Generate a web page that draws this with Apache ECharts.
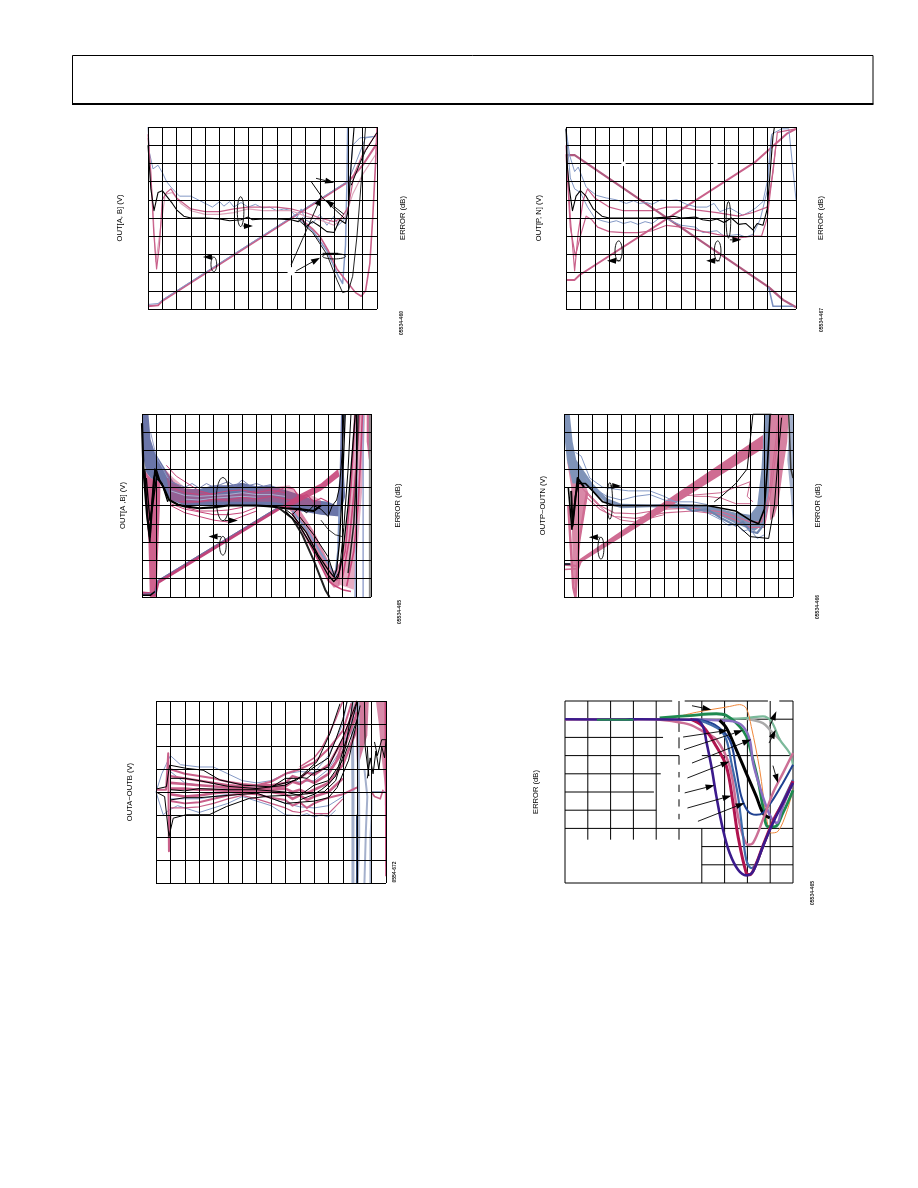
<!DOCTYPE html>
<html><head><meta charset="utf-8">
<style>html,body{margin:0;padding:0;background:#fff}#c{width:918px;height:1188px}</style>
<script src="https://cdn.jsdelivr.net/npm/echarts@6/dist/echarts.min.js"></script>
</head><body><div id="c"></div>
<script>
// ---------- tick counts / labels ----------
const leftLabels = ["OUT[A, B] (V)","OUT[P, N] (V)","OUT[A ,B] (V)","OUTP\u2212OUTN (V)","OUTA\u2212OUTB (V)","ERROR (dB)"];
const rightLabels = ["ERROR (dB)","ERROR (dB)","ERROR (dB)","ERROR (dB)","",""];
const figureIds = ["05534-460","05534-467","05534-465","05534-466","0554-672","05534-465"];

// ---------- chart 1 ----------
const c1Ramp = [[0,.15],[.7,.2],[1,.45],[14,7],[15,7.9],[16,9.1]];
const c1RampB = [[0,.25],[.7,.3],[1,.5],[14,7.05],[14.6,8.2],[15.2,9.4],[16,9.5]];
const c1RampK = [[14.2,6.8],[14.8,8],[15.2,8.7],[16,9.7]];
const c1Blue = [[0,10],[.1,8.6],[.35,7.7],[.7,7.9],[1,7.5],[1.3,7],[1.6,6.7],[2.2,6.2],[3,6.2],[3.5,6],[4,5.8],[4.5,5.6],[5,5.9],[5.3,5.65],[5.7,5.9],[6,5.6],[6.5,5.85],[7,5.6],[7.5,5.75],[8,5.55],[8.5,5.6],[9,5.4],[9.5,5.5],[10,5.4],[10.4,5.0],[10.7,5.5],[11,4.9],[11.5,4.7],[12,5.2],[12.5,4.6],[13,5.1],[13.3,4.6],[13.7,4.9],[14,5.5],[14.1,7],[14.3,9],[14.8,9.4],[16,9.5]];
const c1BlueDrop = [[10.5,5],[11.5,4.3],[12.5,3.2],[13.3,1.8],[13.6,1.4],[13.8,3.5],[13.9,7],[13.95,10]];
const c1Pink = [[0,9.6],[.2,7.5],[.4,4.2],[.6,2.2],[.8,3.5],[1,6],[1.3,6.4],[1.6,6.6],[2,6.1],[3,5.5],[4,5.35],[5,5.35],[6,5.5],[7,5.6],[8,5.6],[9,5.6],[10,5.5],[10.5,5.4],[11,5.3],[12,5],[13,4.8],[13.5,5],[14,5.6],[14.4,7.4],[15,8.5],[16,9.7]];
const c1PinkLt = [[0,9.4],[.3,6],[.55,2.6],[.8,4],[1.2,6.3],[1.7,6.4],[2.3,5.8],[3,5.4],[4,5.2],[5,5.2],[6,5.3],[7,5.5],[8,5.4],[9,5.4],[10,5.4],[11,5.1],[12,4.9],[13,4.6],[13.8,5.1],[14.3,6.3],[15,7.4],[16,8.6]];
const c1PinkDrop = [[10.6,5],[11.5,4.4],[12,4],[12.6,3.2],[13.2,2.2],[14,1.4],[14.5,.9],[14.9,.7],[15.2,1],[15.5,2.5],[15.7,5],[15.9,8],[16,10]];
const c1Black = [[0,9],[.2,6.6],[.42,5.4],[.7,6.4],[1,6.5],[1.3,6.2],[1.7,5.8],[2,5.45],[2.5,5.1],[3,5],[4,5],[5,4.95],[5.7,4.85],[6.5,4.9],[7,5.05],[7.3,4.9],[8,4.95],[9,4.95],[10,4.9],[10.5,4.8],[10.8,5],[11,4.5],[11.5,4.8],[12,4.55],[12.5,4.25],[13,4.2],[13.4,4.9],[13.8,4.7],[14,5.5],[14.2,8],[14.4,10]];
const c1BlackDrop = [[10.5,4.9],[11.5,4.2],[12.5,3],[13.2,1.6],[13.6,.9],[14,1],[14.3,1.8],[14.6,4],[14.9,7],[15.2,10]];
const c1Ellipses = [[6.47,5.35,.23,.82],[4.6,2.45,.2,.4],[13,2.9,.8,.15]];
const c1Arrows = [[6.63,4.56,7.33,4.56],[4.53,2.86,3.84,2.86],[11.74,7.18,13,6.94],[10,2.42,12.1,6.17],[10.35,2.09,12.02,2.82],[13.7,5.2,12.4,6]];
const c1Leaders = [[11.4,7,12.2,6.1],[12.2,6.1,13.7,5],[12.2,3.06,13.3,3.06]];
const c1Masks = [[9.75,1.85,10.25,2.3]];

// ---------- chart 2 ----------
const c2RampUp = [[0,1.6],[.6,1.6],[.95,1.87],[13.2,8.1],[15.4,9.65],[16,9.9]];
const c2RampDown = [[.1,8.45],[.6,8.45],[14.1,1.2],[15.1,.5],[16,.1]];
const c2BlueStep = [[14.1,1.2],[14.4,.15],[15.8,.15]];
const c2BlueTop = [[0,9.9],[.25,8.45],[.6,7.55],[.85,7.8],[1.4,6.7],[2.1,6.25],[2.8,6.1],[3.5,6],[4.2,5.8],[4.7,5.95],[5.1,5.8],[5.6,5.85],[6,5.75],[6.6,6],[7.2,5.95],[7.7,6],[8.4,5.75],[9.1,5.6],[9.8,5.6],[10.3,5.8],[10.7,5.35],[11.4,5.55],[12.3,5.15],[12.8,5.35],[13.2,5.55],[13.7,5.9],[14,7],[14.3,9.6],[15,9.9],[15.5,9.9],[16,6]];
const c2BlueLow = [[0,9.9],[.3,7.2],[.6,6.6],[1,6.4],[1.5,5.6],[2,5],[2.5,4.85],[3,4.75],[3.5,4.85],[4,4.7],[4.5,4.8],[5,4.65],[5.5,4.8],[6,4.7],[6.5,5],[7,4.95],[8,4.6],[9,4.5],[9.5,4.2],[10,4.25],[10.5,4.3],[11,4],[12,4.1],[12.5,3.95],[13,4.1],[13.5,4.9],[14,6.5],[14.3,9.5]];
const c2PinkTop = [[0,9],[.3,5],[.6,2.1],[.85,4.2],[1.2,6],[1.5,6.6],[2,6.1],[3,5.6],[4,5.4],[6,5.4],[7,5.6],[8,5.6],[9,5.45],[10.5,5.3],[12,5.1],[13,5.3],[14,5.6],[14.4,7.5],[14.7,9.7],[16,9.9]];
const c2PinkLow = [[0,8.5],[.3,4.5],[.65,2.9],[1,4],[1.4,5.1],[1.8,4.9],[2.2,4.5],[3,4.25],[4,4.2],[5,4.2],[6,4.3],[7,4.6],[8,4.5],[9,4.35],[10.5,4.1],[12,3.9],[13,4],[13.6,4],[14,5],[14.3,7],[14.6,9]];
const c2Black = [[0,9.9],[.1,7.8],[.25,6.5],[.45,5.4],[.7,6.2],[1,6.5],[1.4,6.2],[1.9,5.5],[2.5,5.1],[3,5],[6,5],[7,5.05],[7.5,5.1],[8,5],[9,5.05],[9.5,4.9],[10,4.85],[10.5,4.95],[11,4.75],[11.5,5],[12,4.65],[12.5,4.7],[13,4.35],[13.3,4.7],[13.7,4.6],[14,5.5],[14.2,7.5],[14.4,9.5],[14.5,10]];
const c2Ellipses = [[3.66,3.19,.25,.55],[10.55,3.19,.23,.55],[11.3,4.9,.16,1]];
const c2Arrows = [[3.8,2.65,2.85,2.65],[10.7,2.65,9.75,2.65],[11.4,3.8,12.2,3.8]];
const c2Masks = [[3.85,7.85,4.15,8.1],[10.25,7.85,10.55,8.1]];

// ---------- chart 3 ----------
const c3BlueBand = [[0,10],[.45,10],[.6,8.6],[.9,7.9],[1.3,7.4],[1.7,6.9],[2.2,6.3],[3,5.9],[4,5.9],[5,6.1],[6,6.1],[7,6.25],[8,6.05],[9,6.1],[10,5.85],[11,5.6],[12,5.3],[13,5.2],[13.6,5],[13.8,6.5],[13.9,10],[14.2,10],[14,8],[14.2,5.5],[13.8,4.4],[12.5,4.5],[11,4.7],[9,4.9],[7,5],[5,4.95],[3,5],[2,5.3],[1.7,5.7],[1.2,6.3],[.6,6.5],[.3,6.8],[0,8]];
const c3PinkBody = [[1.6,7],[2.2,6.5],[3,6],[5,5.6],[7,5.7],[9,6],[10.3,6.1],[11,5.6],[12,5.5],[12.5,5.3],[12.5,4.9],[11,5],[9,5.2],[7,5.2],[5,5.2],[3,5.1],[2,5.3]];
const c3PinkSpike = [[.1,7],[.6,6.5],[1.3,6.4],[1.25,5],[1.1,2],[1,0],[.55,0],[.45,3],[.2,6]];
const c3PinkV = [[10,5],[11,4.2],[12,2.6],[13,.9],[13.4,.5],[13.8,.6],[13.9,2],[13.4,1.4],[13,2],[12,3.6],[11,4.8]];
const c3PinkRight = [[13.7,.7],[14.8,.4],[15.1,3],[15.4,6],[15.6,10],[14.8,10],[14.6,7],[14.3,4]];
const c3PinkRightB = [[15.7,10],[16,10],[16,8],[15.85,7.5],[15.7,8.5]];
const c3PinkRampTop = [[9.6,4.9],[11,5.6],[12.5,6.2],[13.7,7],[13.8,6.6],[12.5,5.8],[11,5.2],[10,4.8]];
const c3Ramp = [[0,.2],[.9,.15],[1.1,.8],[9.7,4.9]];
const c3RampB = [[0,.15],[.9,.2],[1.1,.9],[9.7,5]];
const c3RampK = [[0,.1],[.6,.1],[.9,.3]];
const c3PinkA = [[2,5],[3,4.6],[4,4.4],[5,4.2],[6,4.1],[7,4.4],[8,4.7]];
const c3PinkB = [[2,5.1],[3,4.8],[5,4.5],[6,4.5],[7,4.6],[8,4.9]];
const c3PinkC = [[3,4.9],[4,4.7],[5,4.7],[6,4.75],[7,4.9]];
const c3PinkD = [[1.7,7.2],[2.4,6.6],[3,6.3],[4,5.8],[5,5.6]];
const c3PinkE = [[9.2,5.7],[10,6],[10.6,5.9],[11,5.4],[11.5,5.6],[12,5.2],[12.5,5.4],[13,5.2]];
const c3PinkF = [[13.6,.9],[14.2,2.5],[14.6,6],[14.9,10]];
const c3PinkG = [[10.5,4.6],[11.5,3.2],[12.5,1.7],[13,.9],[13.5,.6],[14,.4],[14.6,.3]];
const c3PinkH = [[14.3,.6],[14.8,2.5],[15.1,5],[15.3,8],[15.4,10]];
const c3PinkI = [[14,1],[14.5,3.2],[14.8,5.6],[15.05,8],[15.2,10]];
const c3PinkJ = [[2,6],[3,5.7],[4,5.6],[5,5.65],[6,5.8],[7,5.85],[8,5.7],[9,5.85],[10,5.7]];
const c3PinkK = [[2.6,5.2],[4,5.2],[5,5.35],[6,5.3],[7,5.45],[8,5.35],[9,5.5],[10,5.35],[11,5.25]];
const c3BlueTop = [[1.5,7],[2,6.3],[3,6],[3.5,6.2],[4,5.95],[4.5,6.2],[5,6],[5.5,6.15],[6,6.3],[6.5,6.05],[7,6.4],[7.5,6.1],[8,6.2],[8.5,6.05],[9,6.15]];
const c3LiteA = [[2,5.8],[3,5.55],[4,5.5],[5,5.55],[6,5.6],[7,5.7],[8,5.6],[9,5.6],[10,5.5]];
const c3LiteB = [[.6,9],[.9,8],[1.1,7.5],[1.4,7.1],[1.8,6.5]];
const c3LiteC = [[3,5.35],[4,5.3],[5,5.4],[6,5.45],[7,5.5],[8,5.45]];
const c3KA = [[0,9.5],[.1,7],[.35,4.5],[.55,3.3],[.7,5],[.85,6.5],[1,6.9],[1.2,6.4],[1.5,6],[1.9,5.3],[2.5,5.05],[3,4.95],[4,4.85],[5,4.9],[6,5],[7,5],[8,5],[9,4.95],[10,4.85],[11,4.8],[12,4.7],[12.5,5]];
const c3KB = [[.2,7],[.4,4],[.55,3],[.65,4.5],[.9,7],[1.1,6.5]];
const c3KC = [[.3,6.5],[.55,4.2],[.75,5],[1,6.5],[1.4,6.2],[1.8,5.2]];
const c3KV1 = [[9.5,4.9],[10.5,4.3],[11.2,3.4],[12,2],[12.8,.4],[13.1,0]];
const c3KV2 = [[10,4.7],[11,3.9],[12,2.6],[13,1.2],[13.4,.85],[13.7,1.1],[14,2.2],[14.4,5],[14.7,8],[14.9,10]];
const c3KV3 = [[10.5,4.5],[11.5,3.5],[12.3,2.3],[13,1.5],[13.4,1.1],[13.6,1.5],[13.8,3],[14,6],[14.2,10]];
const c3KV4 = [[11,4.4],[12,3.4],[13,2.2],[13.5,1],[13.8,1.4],[14.1,3.8],[14.4,7],[14.6,10]];
const c3KArc = [[12.5,4.2],[13,3.7],[13.5,3.4],[14,3.3]];
const c3KNoise = [[10,4.8],[10.5,4.5],[11,4.9],[11.5,4.6],[12,5],[12.5,4.8],[13,4.4],[13.3,5],[13.6,5.3],[13.8,6],[14,8],[14.1,10]];
const c3KRight = [[14.4,1.3],[14.8,4],[15,7],[15.1,10]];
const c3BV1 = [[10.5,4.7],[11.5,3.7],[12.5,2.4],[13.2,1.6],[13.5,1.1],[13.7,2.5],[13.8,5]];
const c3BV2 = [[15,10],[15,5],[14.9,0]];
const c3BV3 = [[15.45,10],[15.45,0]];
const c3Gray = [[15.92,0],[15.92,10]];
const c3Ellipses = [[5.65,5.35,.46,1.18],[5.65,2.8,.23,.51]];
const c3Arrows = [[5.77,4.18,6.7,4.18],[5.53,3.3,4.65,3.3]];

// ---------- chart 4 ----------
const c4BlueBand = [[0,10],[.4,10],[.6,8.5],[.85,7.5],[1.3,7],[2,6.2],[3,5.4],[4,5.1],[6,5.05],[8,5.1],[10,5],[12,4.6],[13,4.5],[13.5,5],[13.8,7],[14,10],[14.4,10],[14.4,8],[14.3,5],[14,4],[13.3,3.6],[12,4],[11,4.4],[9,4.8],[6,4.9],[4,4.85],[3,5.1],[2,5.8],[1.2,6.2],[.6,6.2],[.2,7.5],[0,9]];
const c4PinkSpike = [[.2,7.5],[.5,6],[.6,2],[.75,.2],[.85,.2],[1,2.5],[1.4,4.5],[1.7,5.7],[1.2,6.8],[.7,6.5]];
const c4PinkRight = [[14.4,10],[15.7,10],[15.6,8.5],[15.3,7],[15,5.2],[14.7,4.4],[14.4,4.2],[14.35,6]];
const c4BlueRight = [[15.8,10],[16,10],[16,3.9],[15.85,5.5],[15.6,7.5]];
const c4RampPoly = [[1.05,2.05],[13.9,8.85],[13.9,8.1],[1.1,1.85]];
const c4RampFoot = [[0,1.76],[1,1.7],[1.1,2]];
const c4RampFootB = [[0,1.5],[1,1.55],[1.2,1.95]];
const c4PinkLow = [[1.5,5.5],[2.5,4.8],[3.5,4.4],[5,4.3],[7,4.6],[9,4.7],[11,4.5],[12,4.2],[13,3.8],[14,3.8],[14.5,6],[15,9],[15.3,10]];
const c4PinkLowB = [[1.5,5.8],[2.5,5],[3.5,4.6],[5,4.55],[7,4.8],[9,4.85],[11,4.65],[12,4.4],[13,4.1],[13.8,4.1],[14.3,5.5],[14.8,8.5],[15,10]];
const c4PinkUp = [[8,5.5],[9.5,5.6],[11,5.7],[13,6.3],[12.8,5.5],[13.2,5.2]];
const c4PinkSp = [[.3,5],[.65,.5],[.8,0],[1.05,3],[1.6,5.7]];
const c4PinkMid = [[9,5.5],[10,5.5],[11,5.4],[12,5.1],[13,5.1]];
const c4PinkLowC = [[1.2,6],[2,5.3],[3,4.6],[4,4.2],[5,4.1],[6,4.3],[7,4.5]];
const c4BlackA = [[.3,6],[.55,3.7],[.8,5.5],[1,6.2],[1.5,6.2],[2,5.8],[2.7,5.2],[3.5,5],[6,5],[8,5],[10,5],[12,4.7],[13,4.2],[13.6,4],[14,4.8],[14.2,7],[14.4,10]];
const c4BlackB = [[.5,5.8],[.6,3.9],[.75,5],[.95,6.5],[1.4,6]];
const c4BlackC = [[10.5,5.2],[11,5.5],[12,6.2],[12.8,7],[13,8.5],[13.2,10],[14.5,10]];
const c4BlackD = [[12,4],[13,3.3],[14.3,3.2],[14.7,5],[15,8],[15.2,9.8]];
const c4BlackE = [[0,1.8],[.45,1.8]];
const c4BlueOut = [[.8,7.9],[1.2,7.7],[1.8,6.5],[2.7,6],[3.5,5.9],[4.5,5.8],[6,5.8],[7,5.5],[8,5.1]];
const c4BlueNoise = [[8,5.05],[9,4.7],[10,4.8],[11,4.3],[12,3.9],[12.5,4.1],[13,3.6],[13.5,3.5],[14,4]];
const c4BlueMid = [[1.5,6.5],[2,6],[3,5.5],[4,5.3],[5,5.5],[6,5.6],[7,5.3],[8,5.2],[9,5.2],[10,5.05]];
const c4BlueLow = [[10,4.6],[11,4.2],[11.5,3.9],[12,4],[12.5,3.6],[13,3.7],[13.5,3.2],[14,3.4]];
const c4KFade = [[15.7,10],[15.85,7],[16,6.5]];
const c4Ellipses = [[3.2,5.25,.19,1],[2.58,2.67,.21,.6]];
const c4Arrows = [[3.2,6.07,4,6.07],[2.49,3.27,1.74,3.27]];

// ---------- chart 5 ----------
const c5PinkA = [[1,5],[2,4.8],[3,4.7],[4,4.6],[5,4.45],[6,4.35],[7,4.3],[8,4.45],[9,4.8],[10,5],[11,5.3],[12,5.9],[13,6.7],[13.6,7.9]];
const c5PinkB = [[1,4.7],[2,4.6],[3,4.5],[4,4.4],[5,4.3],[6,4.25],[7,4.3],[8,4.3],[9,4.4],[9.5,4.7],[10,4.6],[10.5,4.85],[11,4.75],[12,5.2],[13,6.3],[14,8]];
const c5PinkC = [[1,4.4],[2,4.35],[3,4.3],[4,4.25],[5,4.2],[6,4.15],[7,4.15],[8,4.2],[9,4.25],[9.5,4.45],[10,4.35],[10.5,4.55],[11,4.4],[12,4.8],[13,5.8],[14,7.5]];
const c5PinkD = [[1,4.15],[2,4.15],[3,4.1],[4,4.1],[5,4.1],[6,4.1],[7,4.1],[8,4.1],[9,4.15],[9.5,4],[10,4.1],[10.5,3.95],[11,4.1],[12,4.4],[13,5.2],[14,6.8]];
const c5PinkE = [[1,3.9],[2,3.8],[3,3.85],[4,3.95],[5,4],[6,4.05],[7,4],[8,4],[9,3.9],[9.5,3.7],[10,3.85],[10.5,3.65],[11,3.8],[12,4],[13,4.6]];
const c5PinkF = [[1,3.6],[2,3.5],[3,3.55],[4,3.7],[5,3.85],[6,3.95],[7,3.9],[8,3.75],[9,3.65],[9.5,3.4],[10,3.55],[10.5,3.3],[11,3.5],[12,3.75],[13,3.9],[14,4.2]];
const c5PinkG = [[1,3.3],[2,3.3],[3,3.35],[4,3.5],[5,3.7],[6,3.85],[7,3.7],[8,3.5],[9,3.3],[9.5,3.15],[10,3.1],[10.5,3.2],[11,3.05],[12,3.05],[13,3.7]];
const c5PinkH = [[10,5.1],[11,5.5],[11.5,5.9],[12,6.5],[12.5,7.2],[13,8]];
const c5PinkI = [[12,4.9],[12.5,5.3],[13,6.2],[13.5,7.2],[14,8]];
const c5PinkSpike = [[0,4.1],[.7,4.1],[.85,5.7],[.9,1.4],[1,3]];
const c5PinkTopA = [[13.8,8],[14.8,8],[14.7,6.5],[14,5]];
const c5PinkTopB = [[15.3,8],[16,8],[16,3.8],[15.7,5.5],[15.5,7]];
const c5PinkEdge = [[15.95,8],[16,.3]];
const c5PinkFoot = [[15,4],[15.2,3.8],[15.6,3.7],[15.8,4.1]];
const c5BlueA = [[0,4],[.4,4.8],[.7,5.2],[1,5.6],[1.7,5.2],[3,5.1],[4,5.1],[5,4.8],[6,4.5],[7,4.4],[8,4.5],[9,4.8],[10,4.9],[11,4.85],[12,5.6],[13,7],[13.3,8]];
const c5BlueB = [[0,4],[.5,3],[.9,3.2],[1.5,3.4],[3,3.1],[4,3.3],[5,3.5],[6,3.8],[7,3.6],[8,3.4],[9,3],[10,2.95],[10.5,3.05],[11,2.9],[11.5,3],[12,2.9],[12.5,3.2]];
const c5BlueC = [[1,4.9],[2,4.4],[3,4.3],[5,4.15],[7,4.2],[9,4.4],[11,4.5],[12,5],[13,6],[14,7.8]];
const c5BlueD = [[1,3.7],[2,3.7],[3,3.7],[5,3.9],[7,3.95],[9,3.5],[10,3.35],[11,3.3],[12,3.4],[13,3.8]];
const c5BlueVA = [[13.65,8],[13.7,4],[13.7,2],[13.7,0]];
const c5BlueVB = [[14,0],[14.1,2],[14.1,3],[14.05,8]];
const c5BlueVC = [[13.95,0],[13.95,3]];
const c5BlueVD = [[14.5,0],[14.6,2.3],[14.7,3.8],[14.5,5]];
const c5BlueVE = [[14.9,0],[14.9,2],[15,3.2],[15,4]];
const c5BlueFlat = [[15,4],[16,4]];
const c5KTop = [[0,4.13],[.72,4.23],[.95,5.18],[2.1,5.04],[3.28,4.96],[4.44,4.53],[6.07,4.3],[7.93,4.23],[9.8,4.53],[11.2,5.33],[12.1,6.57],[12.8,7.88]];
const c5KBot = [[0,4],[.6,3.8],[.9,2.04],[1.2,2.85],[2.1,3],[3.7,3],[4.9,3.36],[6.5,3.72],[7.9,3.82],[9.8,3.87],[11.7,4.01],[12.5,4.5],[13.2,6],[13.7,8]];
const c5KA = [[1,4.6],[2,4.6],[3,4.5],[5,4.25],[7,4.15],[9,4.3],[10,4.65],[10.5,4.6],[11,4.85],[12,5.1],[13,6.4],[14,8]];
const c5KB = [[1,4.1],[2,4.05],[3,4.15],[5,4.1],[7,4.1],[9,4],[10,3.85],[11,4.3],[12,4.5],[13,5.4],[14,7.2]];
const c5KC = [[1,3.65],[2,3.75],[3,3.75],[5,3.85],[7,3.95],[9,3.5],[10,3.55],[11,3.6],[12,3.75],[12.6,4.2],[13.4,5.4],[14.2,7.8]];
const c5KD = [[8,4.2],[9,4.6],[10,4.6],[11,5.1],[11.5,5.3],[12,5.5],[12.5,6.3],[13,7.2],[13.3,8]];
const c5KE = [[10,3.65],[11,3.9],[11.5,4.1],[12,4.35],[12.5,4.7],[13,5.8],[13.6,7],[14,8]];
const c5KNoise = [[14.7,4.6],[14.9,5.5],[15.1,4.8],[15.3,5.8],[15.5,5],[15.7,6],[15.9,5.5],[16,6.3],[15.7,6.3],[15.4,5.6],[15.2,6.2]];
const c5KCol = [[14.5,8],[14.55,6],[14.8,4.7],[14.7,6]];

// ---------- chart 6 ----------
const c6Gray = [[7.95,9.03],[8.68,8.79],[9.05,8.33],[9.42,7.88]];
const c6LtGreen = [[6.93,9.03],[7.95,9.06],[8.68,9.16],[9.05,8.88],[9.42,7.88],[9.85,7.14],[10,6.5]];
const c6Orange = [[4.74,9.07],[5.76,9.38],[7.22,9.7],[7.66,9.8],[7.95,9.6],[8.17,8.6],[8.54,6.23],[8.83,3.66],[9.05,2.75],[9.34,2.84],[9.71,3.85],[10,5.13]];
const c6Green = [[4.15,9.07],[5.47,9.2],[6.64,9.3],[7.08,9.2],[7.66,8.6],[7.95,8.06],[8.17,7.14],[8.46,5.68],[8.68,4.2],[8.9,3.1],[9.2,3.1],[9.56,3.85],[10,5.1]];
const c6Purple = [[5.47,9],[6.64,8.94],[7.37,8.88],[7.81,8.6],[8.1,7.88],[8.25,6.6],[8.54,5.3],[8.83,4.2],[9.05,3.57],[9.3,3.3],[9.5,4],[10,5.6]];
const c6Black = [[6.78,8.94],[7.08,8.52],[7.51,7.33],[7.95,6.04],[8.39,4.76],[8.68,3.85],[8.98,3.57]];
const c6Navy = [[5.8,8.98],[6.56,8.7],[7.22,7.87],[7.51,6.23],[7.73,4.76],[8.03,3.94],[8.39,3.75],[8.68,3.85],[9.12,4.58],[9.56,5.5],[10,6.5]];
const c6Pink = [[0,8.98],[3.86,9],[4.74,8.88],[5.47,8.7],[6.05,8.33],[6.64,7.88],[7.22,6.41],[7.59,3.66],[7.81,2.56],[8.03,2.1],[8.25,2.2],[8.68,3.48],[9.12,4.95],[9.56,6.04],[10,7.14]];
const c6Steel = [[5.6,9],[6.2,8.8],[6.78,8.42],[7.08,7.87],[7.3,6.6],[7.59,4.76],[7.81,2.56],[7.95,1.28],[8.17,.82],[8.39,1.1],[8.98,2.93],[10,5.68]];
const c6Crimson = [[5.5,9],[6.05,8.6],[6.64,7.5],[7.08,6.4],[7.37,4.4],[7.59,2.56],[7.95,.55],[8.1,.45],[8.3,.8],[8.7,2.1],[9.2,3.6],[9.6,4.5],[10,5.6]];
const c6Indigo = [[0,9],[2.5,8.98],[3.2,9],[5.76,8.97],[6.05,8.6],[6.2,7.78],[6.42,6.41],[6.64,4.76],[6.93,2.93],[7.22,1.65],[7.59,.73],[7.95,.42],[8.25,.64],[8.68,2.01],[9.12,3.3],[9.56,4.4],[10,5.5]];
const c6GreenFlat = [[1.4,8.97],[3,8.97]];
const c6Arrows = [[5.57,9.74,6.42,9.52],[5.18,8.02,7.15,8.39],[5.22,7.33,7.81,8.39],[5.57,6.59,8.17,7.88],[5.37,5.77,7.22,6.68],[5.25,4.95,6.56,5.37],[5.37,4.12,7.3,4.8],[5.83,3.39,7.88,4.4],[8.98,8.61,9.27,9.43],[8.95,7.69,9.24,8.42],[9.12,6.45,9.34,5.49]];
const c6GridLines = [[0,10,4.7,10],[5.25,10,8.9,10],[9.4,10,10,10],[0,9,10,9],[0,8,4.3,8],[0,7,5,7],[6,7,10,7],[0,6,4.2,6],[0,5,3.9,5],[0,4,4,4],[0,3,10,3],[6,2,10,2],[6,1,10,1],[0,0,10,0],[0,0,0,10],[10,0,10,10],
 [1,2.38,1,10],[2,2.38,2,10],[3,2.38,3,10],[4,2.38,4,10],[5,10,5,9],[5,8.8,5,8.3],[5,8,5,7.4],[5,7,5,6.5],[5,6.1,5,5.8],[5,5.4,5,5],[5,4.6,5,4.2],[5,3.8,5,3.5],[5,3,5,2.38],[6,9,6,10],[6,0,6,3],[7,0,7,10],[8,0,8,10],[9,0,9,10]];

// ---------- colours ----------
const BLUE='#8499c6', PINK='#c9608a', PINKL='#dda6bb', BAND='#6a75a8', MAG='#c7467a', INK='#000';

const grids = [
 {l:148,t:127,w:229,h:182,xn:16,yn:10,gap:[24,22]},
 {l:566,t:127,w:230,h:182,xn:16,yn:10,gap:[23,21]},
 {l:142,t:414,w:229,h:183,xn:16,yn:10,gap:[15,23]},
 {l:564,t:414,w:229,h:183,xn:16,yn:10,gap:[17,21]},
 {l:156,t:701,w:230,h:182,xn:16,yn:8,gap:[22,0]},
 {l:565,t:701,w:228,h:182,xn:10,yn:10,gap:[25,0]}
];

// [points, colour, width, opacity, flag]
const lines = [
 [[c1Ramp,PINK,2],[c1RampB,BLUE,1],[c1Blue,BLUE,1],[c1BlueDrop,BLUE,1.5],[c1PinkLt,PINKL,1.2],[c1Pink,PINK,1.2],[c1PinkDrop,PINK,1.6],[c1RampK,INK,1],[c1Black,INK,1.1],[c1BlackDrop,'#222',1]],
 [[c2RampUp,PINK,2],[c2RampDown,'#b0597f',2.2],[c2BlueStep,'#7a8fbf',1.5],[c2BlueTop,BLUE,1],[c2BlueLow,BLUE,1],[c2PinkTop,PINK,1.2],[c2PinkLow,PINK,1.2],[c2Black,INK,1.1]],
 [[c3PinkSpike,MAG,0,.85,'p'],[c3BlueBand,BAND,0,1,'p'],[c3PinkRight,MAG,0,.45,'p'],[c3PinkRightB,MAG,0,.8,'p'],[c3BV1,BLUE,2],[c3BV2,'#9aa6cf',2],[c3BV3,'#9aa6cf',1.5],[c3Gray,'#8a8a8a',2],[c3PinkV,MAG,0,.65,'p'],[c3PinkBody,MAG,0,.45,'p'],[c3PinkRampTop,MAG,0,.9,'p'],
  [c3LiteA,'#a9b0d2',1],[c3LiteB,'#9aa2cc',1],[c3LiteC,'#a9b0d2',1],[c3BlueTop,'#7883b3',1],
  [c3Ramp,'#c1447a',3.5],[c3RampB,BAND,1],[c3RampK,INK,1.5],[c3PinkA,MAG,1],[c3PinkB,MAG,1],[c3PinkC,MAG,1],[c3PinkD,MAG,1],[c3PinkE,MAG,1.2],[c3PinkF,MAG,1.5],[c3PinkG,MAG,1.5],[c3PinkH,MAG,1.6],[c3PinkI,MAG,1.6],[c3PinkJ,MAG,1],[c3PinkK,MAG,1],
  [c3KA,INK,2.2],[c3KB,INK,1.4],[c3KC,INK,1.4],[c3KV1,'#222',2],[c3KV2,INK,1.3],[c3KV3,INK,1.3],[c3KV4,INK,1],[c3KArc,INK,.8],[c3KNoise,INK,1],[c3KRight,'#222',1.5]],
 [[c4PinkSpike,'#cf6c92',0,.8,'p'],[c4BlueBand,'#7f93b8',0,1,'p'],[c4PinkRight,'#cf6c92',0,.85,'p'],[c4BlueRight,'#7c8eb5',0,.7,'p'],
  [c4RampPoly,'#cf6c92',0,1,'p'],[c4RampFoot,'#cf6c92',2],[c4RampFootB,'#cf6c92',1.6],[c4PinkLow,'#cf6c92',1.2],[c4PinkLowB,'#cf6c92',1.2],[c4PinkLowC,'#cf6c92',1],[c4PinkMid,'#cf6c92',1],[c4PinkUp,'#cf6c92',1],[c4PinkSp,'#cf6c92',2.5],
  [c4BlueOut,BLUE,1],[c4BlueMid,BLUE,1],[c4BlueNoise,'#6e84ad',2.2],[c4BlueLow,BLUE,1],[c4BlackA,INK,1.6],[c4BlackB,INK,2],[c4BlackC,INK,1],[c4BlackD,INK,1],[c4BlackE,'#223',2],[c4KFade,'#333',1.5]],
 [[c5PinkTopA,'#c9648c',0,.85,'p'],[c5PinkTopB,'#c9648c',0,.75,'p'],[c5BlueVA,'#a4b0cc',3],[c5BlueVB,'#a4b0cc',3],[c5BlueVC,'#28406f',1],[c5BlueVD,'#a4b0cc',2],[c5BlueVE,'#a4b0cc',1.5],[c5BlueFlat,'#6a7fa8',1.5],
  [c5BlueA,BLUE,1],[c5BlueB,BLUE,1],[c5BlueC,BLUE,1],[c5BlueD,BLUE,1],[c5PinkA,PINK,2],[c5PinkB,PINK,2.4],[c5PinkC,PINK,2.6],[c5PinkD,PINK,2.6],[c5PinkE,PINK,2.6],[c5PinkF,PINK,2],[c5PinkG,PINK,1.2],[c5PinkH,PINK,1.5],[c5PinkI,PINK,2],[c5PinkSpike,PINK,2],[c5PinkEdge,'#c7467a',1.6],[c5PinkFoot,PINK,1.6],
  [c5KTop,INK,1],[c5KBot,INK,1],[c5KA,INK,1],[c5KB,INK,1],[c5KC,INK,1],[c5KD,INK,1],[c5KE,INK,1],[c5KNoise,INK,1],[c5KCol,INK,1]],
 [[c6Gray,'#aaaaaa',2.5,1,1],[c6LtGreen,'#7bb99a',2.2,1,1],[c6Orange,'#f0873a',1,1,1],[c6Green,'#1e8a50',2.8,1,1],[c6Purple,'#8a6fc2',2.5,1,1],[c6Black,INK,3,1,1],[c6Navy,'#1f4191',2,1,1],[c6Pink,'#cc7096',2.5,1,1],[c6Steel,'#3f6bab',2.2,1,1],[c6Crimson,'#b0144f',3,1,1],[c6Indigo,'#3b1a8c',2.6,1,1],[c6GreenFlat,'#1e8a50',2]]
];
const ellipses = [c1Ellipses,c2Ellipses,c3Ellipses,c4Ellipses,[],[]];
const arrows = [c1Arrows,c2Arrows,c3Arrows,c4Arrows,[],c6Arrows];
const leaders = [c1Leaders,[],[],[],[],c6GridLines];
const masks = [c1Masks,c2Masks,[],[],[],[]];

function custom(gi, items, z, draw){
  return {type:'custom',coordinateSystem:'cartesian2d',xAxisIndex:gi,yAxisIndex:gi*2,z,silent:true,animation:false,clip:false,
    data:items.map(d=>d),encode:{x:0,y:1},renderItem:(p,api)=>draw(items[p.dataIndex],api,p.dataIndex)};
}
const grid=[],xAxis=[],yAxis=[],series=[];
const graphic=[
 {type:'rect',z:50,shape:{x:72.5,y:55.5,width:800.5,height:48},style:{fill:'none',stroke:'#000',lineWidth:1}},
 {type:'line',z:50,shape:{x1:72,y1:104,x2:873.5,y2:104},style:{stroke:'#000',lineWidth:2}}
];
const idPos=[[402,323],[822,320],[400,612],[818,607],[395,872],[813,893]];
grids.forEach((g,i)=>{
  const gridAbove=i<5;
  grid.push({left:g.l,top:g.t,width:g.w,height:g.h,containLabel:false,show:false});
  const split={show:gridAbove,lineStyle:{color:'#000',width:1}};
  xAxis.push({gridIndex:i,type:'value',min:0,max:g.xn,interval:1,z:10,axisLabel:{show:false},axisTick:{show:false},axisLine:{show:false},splitLine:split});
  const nm={fontSize:7.6,color:'#000',fontFamily:'Liberation Sans'};
  yAxis.push({gridIndex:i,type:'value',position:'left',min:0,max:g.yn,interval:1,z:10,axisLabel:{show:false},axisTick:{show:false},axisLine:{show:false},splitLine:split,
    name:leftLabels[i],nameLocation:'middle',nameGap:g.gap[0],nameRotate:90,nameTextStyle:nm});
  yAxis.push({gridIndex:i,type:'value',position:'right',min:0,max:g.yn,interval:1,axisLabel:{show:false},axisTick:{show:false},axisLine:{show:false},splitLine:{show:false},
    name:rightLabels[i],nameLocation:'middle',nameGap:g.gap[1],nameRotate:90,nameTextStyle:nm});
  const curveZ=gridAbove?3:14;
  lines[i].forEach((s)=>{
    const [pts,color,w,op,flag]=s;
    if(flag==='p'){
      series.push(custom(i,pts,curveZ,(d,api,idx)=> idx===0?{type:'polygon',shape:{points:pts.map(q=>api.coord(q))},style:{fill:color,opacity:op}}:null));
    }else{
      series.push({type:'line',xAxisIndex:i,yAxisIndex:i*2,data:pts,showSymbol:false,animation:false,silent:true,z:curveZ,smooth:flag?0.35:false,clip:true,
        lineStyle:{color,width:w,opacity:op==null?1:op,join:'round'}});
    }
  });
  if(masks[i].length) series.push(custom(i,masks[i],11,(d,api)=>{const a=api.coord([d[0],d[3]]),b=api.coord([d[2],d[1]]);return {type:'rect',shape:{x:a[0],y:a[1],width:b[0]-a[0],height:b[1]-a[1]},style:{fill:'#fff'}};}));
  if(leaders[i].length) series.push(custom(i,leaders[i],gridAbove?12:2,(d,api)=>{const a=api.coord([d[0],d[1]]),b=api.coord([d[2],d[3]]);return {type:'line',shape:{x1:a[0],y1:a[1],x2:b[0],y2:b[1]},style:{stroke:'#000',lineWidth:1}};}));
  if(ellipses[i].length) series.push(custom(i,ellipses[i],12,(d,api)=>{const c=api.coord([d[0],d[1]]),e=api.coord([d[0]+d[2],d[1]+d[3]]);return {type:'ellipse',shape:{cx:c[0],cy:c[1],rx:Math.abs(e[0]-c[0]),ry:Math.abs(e[1]-c[1])},style:{fill:'none',stroke:'#000',lineWidth:.9}};}));
  if(arrows[i].length) series.push(custom(i,arrows[i],16,(d,api)=>{
    const a=api.coord([d[0],d[1]]),b=api.coord([d[2],d[3]]);
    const dx=b[0]-a[0],dy=b[1]-a[1],L=Math.hypot(dx,dy)||1,ux=dx/L,uy=dy/L,hl=9,hw=3;
    const bx=b[0]-ux*hl,by=b[1]-uy*hl;
    return {type:'group',children:[
      {type:'line',shape:{x1:a[0],y1:a[1],x2:bx,y2:by},style:{stroke:'#000',lineWidth:.9}},
      {type:'polygon',shape:{points:[[b[0],b[1]],[bx-uy*hw,by+ux*hw],[bx+uy*hw,by-ux*hw]]},style:{fill:'#000'}}
    ]};
  }));
  graphic.push({type:'text',x:idPos[i][0],y:idPos[i][1],rotation:Math.PI/2,style:{text:figureIds[i],fill:'#222',font:'bold 5px "Liberation Sans"',textAlign:'center',textVerticalAlign:'middle'}});
});
const chart=echarts.init(document.getElementById('c'),null,{renderer:'canvas'});
chart.setOption({animation:false,backgroundColor:'#fff',grid,xAxis,yAxis,series,graphic});
</script></body></html>
